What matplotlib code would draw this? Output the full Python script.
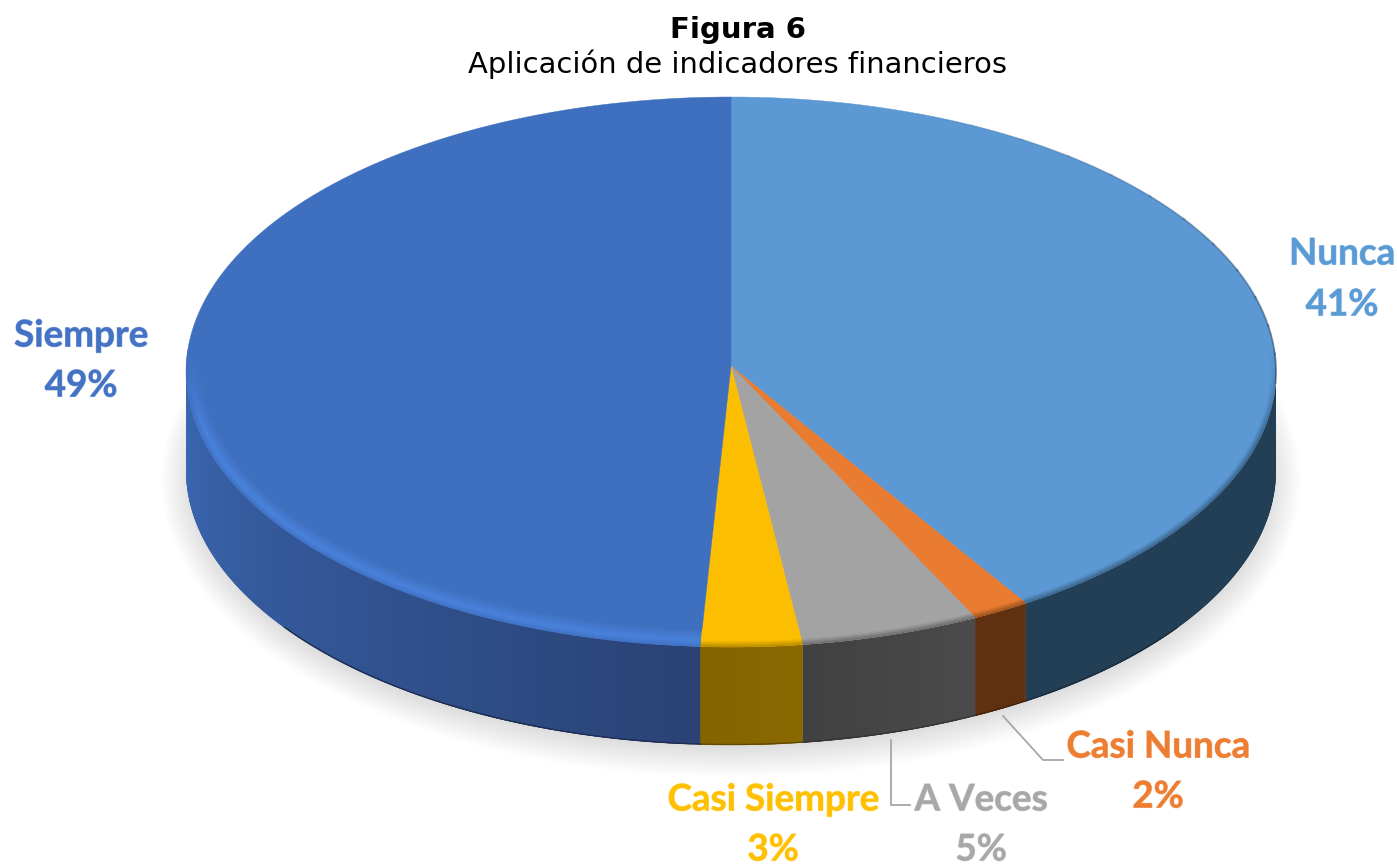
import numpy as np
import matplotlib
matplotlib.use('Agg')
import matplotlib.pyplot as plt
import matplotlib.patheffects as pe
from matplotlib.collections import PolyCollection
from matplotlib.colors import to_rgb
from matplotlib.patches import Ellipse

# datos
categorias = ['Nunca', 'Casi Nunca', 'A Veces', 'Casi Siempre', 'Siempre']
valores = [40.9, 1.7, 5.3, 3.0, 49.1]
titulo = 'Figura 6'
subtitulo = 'Aplicación de indicadores financieros'

# estilos
color_cara = ['#5B98D4', '#E97C30', '#A3A3A3', '#FBBE00', '#3F6FBF']
color_luz = ['#5B98D4', '#E97C30', '#A3A3A3', '#FBBE00', '#4A82DC']
lado_ini = ['#233F55', '#5F3111', '#4A4A4A', '#8A6800', '#2A4275']
lado_fin = ['#233F55', '#5F3111', '#404040', '#846400', '#3A68B3']
color_texto = ['#5B9BD5', '#ED7D31', '#A8A8A8', '#FFC000', '#4472C4']
pos_texto = [(1342, 254, 305), (1158, 747, 797), (981, 800, 850), (773, 800, 850), (81, 336, 386)]

cx, cy, rx, ry = 731, 372, 545, 275
apex_y = 366
alto = 98
bisel = 18


def mezcla(a, b, f):
    a = np.array(to_rgb(a))
    b = np.array(to_rgb(b))
    return tuple(a + (b - a) * f)


def borde(t, d=0):
    r = np.radians(t)
    return cx + (rx - d) * np.sin(r), cy - (ry - d) * np.cos(r)


fig = plt.figure(figsize=(13.97, 8.64), dpi=100)
ax = fig.add_axes([0, 0, 1, 1])
ax.set_xlim(0, 1397)
ax.set_ylim(864, 0)
ax.axis('off')

# sombra difusa
for k in range(22):
    ax.add_patch(Ellipse((cx, 480), 2 * (570 - k * 1.9), 2 * (297 - k * 1.9), fc='black', ec='none', alpha=0.0062, zorder=1))

cortes = np.concatenate([[0], np.cumsum(valores)]) * 360 / sum(valores)

# pared lateral, solo la parte delantera
# cada trozo se solapa con el siguiente para que no salgan rayas
for i in range(len(valores)):
    t0 = max(cortes[i], 90)
    t1 = min(cortes[i + 1], 270)
    if t1 <= t0:
        continue
    ts = np.linspace(t0, t1, int(t1 - t0) + 2)
    polys = []
    cols = []
    for a in ts[:-1]:
        arco = np.linspace(a, min(a + 3, t1), 8)
        xs, ys = borde(arco)
        polys.append(np.column_stack([np.r_[xs, xs[::-1]], np.r_[ys, ys[::-1] + alto]]))
        cols.append(mezcla(lado_ini[i], lado_fin[i], (a - t0) / max(t1 - t0, 1)))
    ax.add_collection(PolyCollection(polys, facecolors=cols, edgecolors='none', zorder=2))
    ts2 = np.linspace(max(t0, 125), min(t1, 235), 100)
    if ts2[-1] > ts2[0]:
        xs, ys = borde(ts2)
        ax.plot(xs, ys + alto - 0.5, color=mezcla(lado_ini[i], 'black', 0.3), lw=1.0, zorder=3)

# cara superior y bisel del borde delantero
for i in range(len(valores)):
    ts = np.linspace(cortes[i], cortes[i + 1], 200)
    xs, ys = borde(ts)
    cara = ax.fill(np.r_[cx, xs], np.r_[apex_y, ys], fc=color_cara[i], ec=color_cara[i], lw=0.3, zorder=4)[0]

    ts = np.linspace(cortes[i], cortes[i + 1], int((cortes[i + 1] - cortes[i]) * 2) + 2)
    polys = []
    cols = []
    for d in np.arange(0, bisel, 1.0):
        for a, b in zip(ts[:-1], ts[1:]):
            m = (a + b) / 2
            peso = np.clip((-np.cos(np.radians(m)) + 0.08) / 0.3, 0, 1)
            if peso == 0:
                continue
            if d < 6:
                c = mezcla(mezcla(lado_fin[i], color_luz[i], 0.45), color_luz[i], d / 6)
            else:
                c = mezcla(color_luz[i], color_cara[i], (d - 6) / (bisel - 6))
            c = mezcla(color_cara[i], c, peso)
            x1, y1 = borde(a, d)
            x2, y2 = borde(b, d)
            x3, y3 = borde(b, d + 1)
            x4, y4 = borde(a, d + 1)
            polys.append([(x1, y1), (x2, y2), (x3, y3), (x4, y4)])
            cols.append(c)
    if polys:
        col = PolyCollection(polys, facecolors=cols, edgecolors='face', linewidths=0.5, zorder=5)
        ax.add_collection(col)
        col.set_clip_path(cara)

# linea oscura fina arriba a la derecha, aparece poco a poco
tramos = np.linspace(20, 92, 13)
for j in range(12):
    xs, ys = borde(np.linspace(tramos[j], tramos[j + 1] + 0.5, 12))
    ax.plot(xs, ys, color='#233F55', lw=1.4, alpha=0.5 * (j + 1) / 12, solid_capstyle='butt', zorder=6)

# lineas guia
ax.plot([1003, 1043, 1063], [716, 760, 760], color='#A6A6A6', lw=1.3, zorder=7)
ax.plot([891, 891, 910], [740, 805, 805], color='#A6A6A6', lw=1.3, zorder=7)

# etiquetas
for i in range(len(valores)):
    x, y1, y2 = pos_texto[i]
    for y, s in [(y1, categorias[i]), (y2, '%d%%' % round(valores[i]))]:
        t = ax.text(x, y, s, color=color_texto[i], family='Lato', weight='bold', fontsize=26.5, ha='center', va='center', zorder=8)
        t.set_path_effects([pe.withStroke(linewidth=0.8, foreground=color_texto[i], alpha=0.5)])

# titulo
ax.text(738, 30, titulo, family='DejaVu Sans', weight='bold', fontsize=21, ha='center', va='center', color='black')
ax.text(738, 64, subtitulo, family='DejaVu Sans', fontsize=20.9, ha='center', va='center', color='black')

plt.savefig('out.png', dpi=100)
